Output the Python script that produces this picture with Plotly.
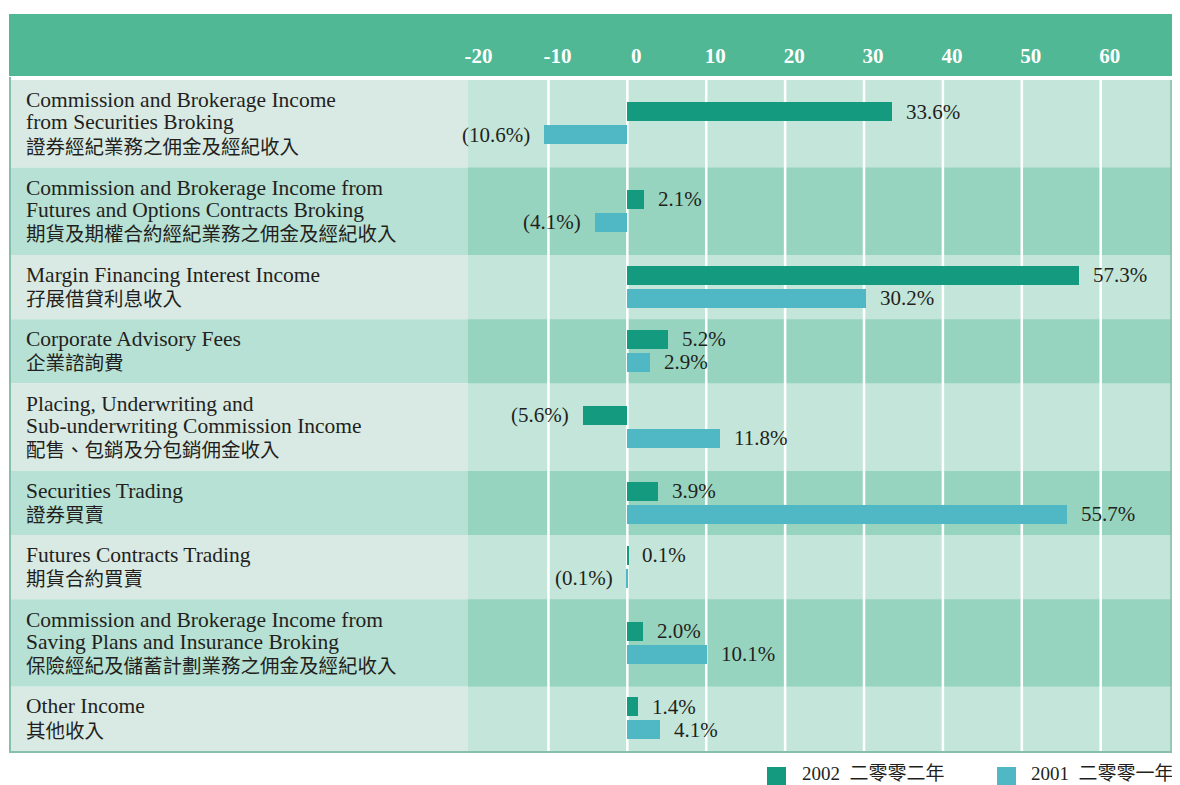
import plotly.graph_objects as go

# 收入分類（英文 / 中文）
labels_en = [
    ["Commission and Brokerage Income", "from Securities Broking"],
    ["Commission and Brokerage Income from", "Futures and Options Contracts Broking"],
    ["Margin Financing Interest Income"],
    ["Corporate Advisory Fees"],
    ["Placing, Underwriting and", "Sub-underwriting Commission Income"],
    ["Securities Trading"],
    ["Futures Contracts Trading"],
    ["Commission and Brokerage Income from", "Saving Plans and Insurance Broking"],
    ["Other Income"],
]
labels_zh = [
    "證券經紀業務之佣金及經紀收入",
    "期貨及期權合約經紀業務之佣金及經紀收入",
    "孖展借貸利息收入",
    "企業諮詢費",
    "配售、包銷及分包銷佣金收入",
    "證券買賣",
    "期貨合約買賣",
    "保險經紀及儲蓄計劃業務之佣金及經紀收入",
    "其他收入",
]

# 各項收入佔比 (%)
share_2002 = [33.6, 2.1, 57.3, 5.2, -5.6, 3.9, 0.1, 2.0, 1.4]
share_2001 = [-10.6, -4.1, 30.2, 2.9, 11.8, 55.7, -0.1, 10.1, 4.1]
tick_vals = [-20, -10, 0, 10, 20, 30, 40, 50, 60]
legend_names = ["2002  二零零二年", "2001  二零零一年"]

# 顏色
C2002 = "#149b7f"
C2001 = "#4fb8c4"
HEADER = "#51b895"
PLOT_LIGHT, PLOT_DARK = "#c4e6da", "#97d4bf"
LAB_LIGHT, LAB_DARK = "#d9eae5", "#b6e1d4"
BORDER = "#88bead"
TXT = "#231f20"
FONT = "Liberation Serif, Noto Sans CJK TC, serif"

# 版面 (頁面像素; 頁面 body 有 8px 邊距)
OFF = 8
VW, VH = 1180, 785
W, H = VW - OFF, VH - OFF
PL, PR, PT, PB = 468, 1178, 80, 751
PW, PH = PR - PL, PB - PT


def px(xp):
    return (xp - PL) / PW


def py(yp):
    return (PB - yp) / PH


# 每行高度按文字行數
row_h = [17.6 + 23.3 * (len(en) + 1) for en in labels_en]
tops = []
acc = 0
for h in row_h:
    tops.append(acc)
    acc += h
centers = [t + h / 2 for t, h in zip(tops, row_h)]

fig = go.Figure()
fig.add_trace(go.Bar(x=share_2002, y=[c - 12 for c in centers], width=19, orientation="h",
                     marker=dict(color=C2002, line_width=0), name=legend_names[0],
                     showlegend=False))
fig.add_trace(go.Bar(x=share_2001, y=[c + 11 for c in centers], width=19, orientation="h",
                     marker=dict(color=C2001, line_width=0), name=legend_names[1],
                     showlegend=False))

shapes = []
# 表頭
shapes.append(dict(type="rect", xref="paper", yref="paper", x0=px(9), x1=px(1180),
                   y0=py(76), y1=py(14), fillcolor=HEADER, line_width=0, layer="below"))
# 行背景
for i, (t, h) in enumerate(zip(tops, row_h)):
    dark = i % 2 == 1
    shapes.append(dict(type="rect", xref="paper", yref="paper", x0=px(10), x1=0,
                       y0=py(PT + t + h), y1=py(PT + t),
                       fillcolor=LAB_DARK if dark else LAB_LIGHT, line_width=0, layer="below"))
    shapes.append(dict(type="rect", xref="paper", yref="paper", x0=0, x1=1,
                       y0=py(PT + t + h), y1=py(PT + t),
                       fillcolor=PLOT_DARK if dark else PLOT_LIGHT, line_width=0, layer="below"))
# 格線
for v in tick_vals[1:]:
    shapes.append(dict(type="line", xref="x", yref="paper", x0=v, x1=v, y0=0, y1=1,
                       line=dict(color="white", width=2.5), layer="below"))
# 邊框
shapes.append(dict(type="line", xref="paper", yref="paper", x0=px(10), x1=px(10),
                   y0=py(752), y1=py(77), line=dict(color=BORDER, width=2)))
shapes.append(dict(type="line", xref="paper", yref="paper", x0=px(9), x1=px(1179),
                   y0=py(752), y1=py(752), line=dict(color=BORDER, width=2)))
shapes.append(dict(type="line", xref="paper", yref="paper", x0=px(1171), x1=px(1171),
                   y0=py(752), y1=py(80), line=dict(color=BORDER, width=1.5)))
# 圖例方塊
for col, x0 in zip([C2002, C2001], [767, 997]):
    shapes.append(dict(type="rect", xref="paper", yref="paper", x0=px(x0), x1=px(x0 + 19),
                       y0=py(786), y1=py(767), fillcolor=col, line_width=0))

annotations = []
# 分類標籤
for en, zh, c in zip(labels_en, labels_zh, centers):
    offs = [22 * k for k in range(len(en))] + [22 * (len(en) - 1) + 25]
    mid = offs[-1] / 2
    for line, o in zip(en + [zh], offs):
        annotations.append(dict(text=line, xref="paper", yref="y", x=px(24), y=c + o - mid,
                                xanchor="left", yanchor="middle", showarrow=False,
                                font=dict(family=FONT, size=19.5 if line == zh else 21.5,
                                          color=TXT)))


def fmt(v):
    return f"{v:.1f}%" if v >= 0 else f"({-v:.1f}%)"


# 數值標籤
for vals, dy in [(share_2002, -12), (share_2001, 11)]:
    for v, c in zip(vals, centers):
        annotations.append(dict(text=fmt(v), xref="x", yref="y", x=v, y=c + dy,
                                xanchor="left" if v >= 0 else "right",
                                xshift=12 if v >= 0 else -12, yanchor="middle",
                                showarrow=False, font=dict(family=FONT, size=21, color=TXT)))
# 圖例文字
for name, x0 in zip(legend_names, [800, 1029]):
    annotations.append(dict(text=name, xref="paper", yref="paper", x=px(x0), y=py(773),
                            xanchor="left", yanchor="middle", showarrow=False,
                            font=dict(family=FONT, size=19, color=TXT)))

fig.update_layout(
    width=W, height=H,
    margin=dict(l=PL - OFF, r=VW - PR, t=PT - OFF, b=VH - PB, pad=0),
    paper_bgcolor="white", plot_bgcolor=PLOT_LIGHT,
    barmode="overlay", bargap=0,
    showlegend=False,
    shapes=shapes, annotations=annotations,
    xaxis=dict(range=[-20.2, 69.8], side="top", tickvals=tick_vals,
               ticktext=[str(v) for v in tick_vals], showgrid=False, zeroline=False,
               ticks="", ticklabelstandoff=12, ticklabelshift=9, fixedrange=True,
               tickfont=dict(family="Liberation Serif, serif", size=21, color="white",
                             weight="bold")),
    yaxis=dict(range=[PH, 0], visible=False, showgrid=False, zeroline=False,
               fixedrange=True),
)

fig.write_html("out.html")
